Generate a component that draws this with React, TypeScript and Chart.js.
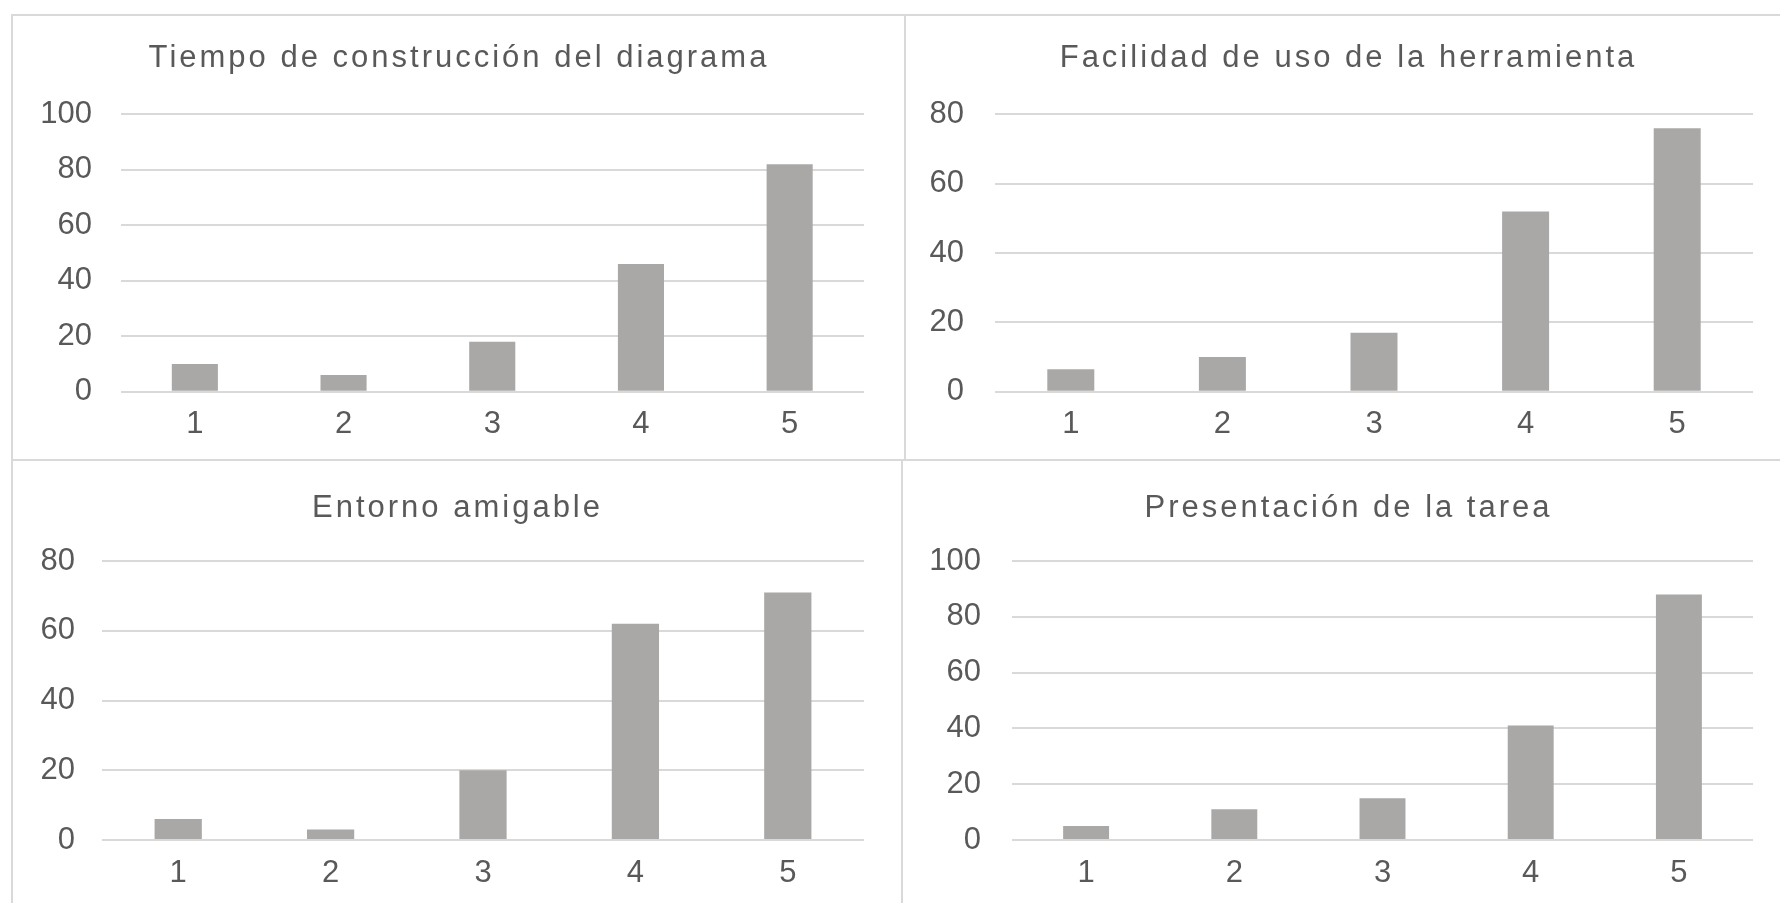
import React, { useEffect, useRef } from "react";
import { Chart, registerables } from "chart.js";

Chart.register(...registerables);

// ---- data ----
const categories = ["1", "2", "3", "4", "5"];
const tiempoValues = [10, 6, 18, 46, 82];
const facilidadValues = [6.5, 10, 17, 52, 76];
const entornoValues = [6, 3, 20, 62, 71];
const presentacionValues = [5, 11, 15, 41, 88];

const tiempoTitle = "Tiempo de construcción del diagrama";
const facilidadTitle = "Facilidad de uso de la herramienta";
const entornoTitle = "Entorno amigable";
const presentacionTitle = "Presentación de la tarea";

const tiempoMax = 100;
const facilidadMax = 80;
const entornoMax = 80;
const presentacionMax = 100;
const yStep = 20;

// ---- styles ----
const FONT = "'Liberation Sans', Arial, sans-serif";
const TEXT = "#595959";
const GRID = "#d9d9d9";
const BAR = "#aaa8a7";
const BORDER = "#d9d9d9";

// draws the panel title (letter-spaced, like the reference)
const panelTitlePlugin = {
  id: "panelTitle",
  afterDraw(chart: any, _args: any, opts: any) {
    const ctx = chart.ctx as CanvasRenderingContext2D;
    ctx.save();
    ctx.font = `normal 31px ${FONT}`;
    ctx.fillStyle = TEXT;
    ctx.textAlign = "center";
    ctx.textBaseline = "alphabetic";
    (ctx as any).letterSpacing = "3px";
    ctx.fillText(opts.text, opts.cx + 1.5, opts.baseline);
    ctx.restore();
  },
};

type PanelProps = {
  title: string;
  values: number[];
  yMax: number;
  left: number;
  top: number;
  width: number;
  height: number;
  yWidth: number;
  tickPad: number;
  padRight: number;
  areaTop: number;
  xHeight: number;
  titleCx: number;
  titleBaseline: number;
};

function BarPanel(p: PanelProps) {
  const ref = useRef<HTMLCanvasElement | null>(null);
  useEffect(() => {
    if (!ref.current) return;
    const chart = new Chart(ref.current, {
      type: "bar",
      data: {
        labels: categories,
        datasets: [
          {
            data: p.values,
            backgroundColor: BAR,
            borderWidth: 0,
            barPercentage: 0.31,
            categoryPercentage: 1,
          },
        ],
      },
      plugins: [panelTitlePlugin],
      options: {
        responsive: false,
        animation: false,
        devicePixelRatio: 1,
        layout: { padding: { left: 0, right: p.padRight, top: p.areaTop, bottom: 0 } },
        plugins: {
          legend: { display: false },
          tooltip: { enabled: false },
          title: { display: false },
          panelTitle: { text: p.title, cx: p.titleCx, baseline: p.titleBaseline },
        },
        scales: {
          x: {
            grid: { display: false, drawTicks: false },
            border: { display: false },
            ticks: { color: TEXT, font: { family: FONT, size: 31 }, padding: 14.5 },
            afterFit: (s: any) => {
              s.height = p.xHeight;
            },
          },
          y: {
            min: 0,
            max: p.yMax,
            ticks: {
              stepSize: yStep,
              color: TEXT,
              font: { family: FONT, size: 31 },
              padding: p.tickPad,
            },
            grid: { color: GRID, lineWidth: 2, drawTicks: false },
            border: { display: false },
            afterFit: (s: any) => {
              s.width = p.yWidth;
            },
          },
        },
      },
    } as any);
    return () => chart.destroy();
  }, []);
  return (
    <canvas
      ref={ref}
      width={p.width}
      height={p.height}
      style={{ position: "absolute", left: p.left, top: p.top, display: "block" }}
    />
  );
}

const line = (l: number, t: number, w: number, h: number) => (
  <div style={{ position: "absolute", left: l, top: t, width: w, height: h, background: BORDER }} />
);

export default function App() {
  return (
    <div
      style={{
        position: "fixed",
        left: 0,
        top: 0,
        width: 1780,
        height: 903,
        background: "#fff",
        overflow: "hidden",
      }}
    >
      {line(11, 14, 1769, 2)}
      {line(11, 14, 2, 889)}
      {line(904, 14, 2, 446)}
      {line(901, 460, 2, 443)}
      {line(11, 459, 1769, 2)}
      <BarPanel
        title={tiempoTitle}
        values={tiempoValues}
        yMax={tiempoMax}
        left={13}
        top={16}
        width={891}
        height={443}
        yWidth={107.5}
        tickPad={28.5}
        padRight={40}
        areaTop={98.3}
        xHeight={67.3}
        titleCx={444.5}
        titleBaseline={50.7}
      />
      <BarPanel
        title={facilidadTitle}
        values={facilidadValues}
        yMax={facilidadMax}
        left={906}
        top={16}
        width={874}
        height={443}
        yWidth={89}
        tickPad={31}
        padRight={27}
        areaTop={98.3}
        xHeight={67.3}
        titleCx={441}
        titleBaseline={51}
      />
      <BarPanel
        title={entornoTitle}
        values={entornoValues}
        yMax={entornoMax}
        left={13}
        top={461}
        width={888}
        height={442}
        yWidth={89}
        tickPad={27}
        padRight={37}
        areaTop={100}
        xHeight={63}
        titleCx={443}
        titleBaseline={55.7}
      />
      <BarPanel
        title={presentacionTitle}
        values={presentacionValues}
        yMax={presentacionMax}
        left={903}
        top={461}
        width={877}
        height={442}
        yWidth={109}
        tickPad={31}
        padRight={27}
        areaTop={100}
        xHeight={63}
        titleCx={444}
        titleBaseline={55.7}
      />
    </div>
  );
}
